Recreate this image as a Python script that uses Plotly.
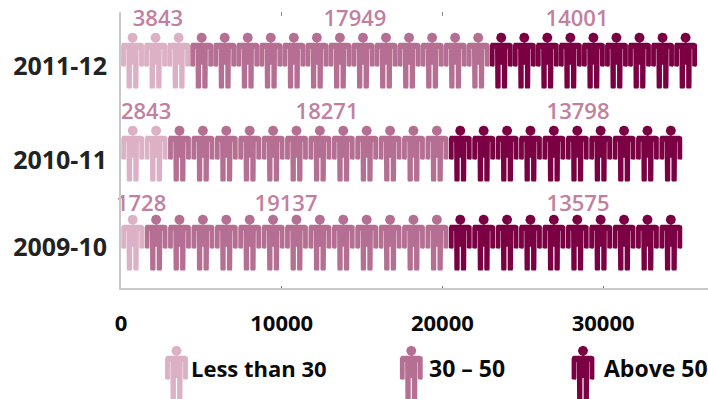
import math
import plotly.graph_objects as go

# Enrolment by age group, one row per academic year
years = ["2011-12", "2010-11", "2009-10"]
groups = ["Less than 30", "30 – 50", "Above 50"]
less_than_30 = [3843, 2843, 1728]
from_30_to_50 = [17949, 18271, 19137]
above_50 = [14001, 13798, 13575]

# Number of person icons drawn per group, and how many people one icon spans
icons_less_than_30 = [3, 2, 1]
icons_30_to_50 = [13, 12, 13]
icons_above_50 = [9, 10, 10]
people_per_icon = [1434, 1456, 1456]

colors = ["#dcb0c5", "#b56f92", "#7b0043"]
label_color = "#c2809f"
value_font = "Open Sans"
bold_font = "Open Sans"

# Page geometry (pixels)
W, H = 708, 399
PLOT_LEFT, PLOT_TOP, PLOT_BOTTOM = 121, 12, 288
PX_PER_PERSON = 0.01607
x_max = (W - PLOT_LEFT) / PX_PER_PERSON

row_center = [60.85, 153.85, 242.85]
year_label_y = [66, 160, 247]
value_label_y = [[20, 20, 20], [113, 113, 113], [205, 205, 205]]
value_label_x = [[2300, 14560, 28380], [1560, 12820, 28440], [1250, 10270, 28440]]


def rounded(points, radii):
    """Closed polygon with its corners cut into small arcs."""
    out = []
    n = len(points)
    for i, (px, py) in enumerate(points):
        r = radii[i]
        ax, ay = points[i - 1]
        bx, by = points[(i + 1) % n]
        if r == 0:
            out.append((px, py))
            continue
        la = math.hypot(ax - px, ay - py)
        lb = math.hypot(bx - px, by - py)
        for k in range(6):
            t = k / 5
            s = (px + (ax - px) / la * r, py + (ay - py) / la * r)
            e = (px + (bx - px) / lb * r, py + (by - py) / lb * r)
            qx = (1 - t) ** 2 * s[0] + 2 * t * (1 - t) * px + t ** 2 * e[0]
            qy = (1 - t) ** 2 * s[1] + 2 * t * (1 - t) * py + t ** 2 * e[1]
            out.append((qx, qy))
    out.append(out[0])
    return out


# Person glyph in pixels, relative to the centre of the figure
HEAD_R = 5.0
HEAD_Y = -23.2
body = rounded(
    [(-11.4, -18.2), (11.4, -18.2), (11.4, 5.8), (6.6, 5.8), (6.6, -12), (6.2, -12),
     (5.9, 27.8), (0.6, 27.8), (0.6, 4), (-0.6, 4), (-0.6, 27.8), (-5.9, 27.8),
     (-6.2, -12), (-6.6, -12), (-6.6, 5.8), (-11.4, 5.8)],
    [2.8, 2.8, 1.2, 1.2, 0, 0, 1.5, 1.5, 0, 0, 1.5, 1.5, 0, 0, 1.2, 1.2],
)
head = [(HEAD_R * math.cos(a * math.pi / 16), HEAD_Y + HEAD_R * math.sin(a * math.pi / 16))
        for a in range(33)]


def glyph(cx, cy, sx):
    xs, ys = [], []
    for part in (body, head):
        xs += [cx + px * sx for px, _ in part] + [None]
        ys += [cy + py for _, py in part] + [None]
    return xs, ys


fig = go.Figure()

# Icon rows: each group continues where the previous one stopped
icon_counts = [icons_less_than_30, icons_30_to_50, icons_above_50]
value_sets = [less_than_30, from_30_to_50, above_50]
for r, year in enumerate(years):
    start = 0
    for g, group in enumerate(groups):
        xs, ys = [], []
        for i in range(icon_counts[g][r]):
            center = (start + i + 0.5) * people_per_icon[r]
            gx, gy = glyph(center, row_center[r], 1 / PX_PER_PERSON)
            xs += gx
            ys += gy
        start += icon_counts[g][r]
        fig.add_trace(go.Scatter(
            x=xs, y=ys, mode="lines", fill="toself", fillcolor=colors[g],
            line=dict(width=0, color=colors[g]), name=f"{year} {group}",
            hoverinfo="skip", showlegend=False, xaxis="x", yaxis="y",
        ))
    fig.add_trace(go.Scatter(
        x=value_label_x[r], y=value_label_y[r], mode="text",
        text=[str(v[r]) for v in value_sets], textposition="middle center",
        textfont=dict(family=value_font, size=22, color=label_color, weight=600),
        hoverinfo="skip", showlegend=False, cliponaxis=False, xaxis="x", yaxis="y",
    ))

# Key under the axis, drawn on a page-sized set of axes
key_x = [176.5, 411.3, 583]
key_text_x = [189, 427, 602]
key_text_size = [22, 23, 23]
for g, group in enumerate(groups):
    gx, gy = glyph(key_x[g], 374, 1)
    fig.add_trace(go.Scatter(
        x=gx, y=gy, mode="lines", fill="toself", fillcolor=colors[g],
        line=dict(width=0, color=colors[g]), name=group,
        hoverinfo="skip", showlegend=False, xaxis="x3", yaxis="y3",
    ))
    fig.add_annotation(
        x=key_text_x[g], y=368, xref="x3", yref="y3", text=f"<b>{group}</b>",
        showarrow=False, xanchor="left", yanchor="middle", align="left",
        font=dict(family=bold_font, size=key_text_size[g], color="#0a0a0a"),
    )

fig.update_layout(
    width=W, height=H, margin=dict(l=0, r=0, t=0, b=0, autoexpand=False),
    paper_bgcolor="white", plot_bgcolor="rgba(0,0,0,0)", showlegend=False,
    xaxis=dict(
        domain=[PLOT_LEFT / W, 1], range=[0, x_max], anchor="y", side="bottom",
        tickvals=[0, 10000, 20000, 30000], ticktext=["0", "10000", "20000", "30000"],
        ticks="inside", ticklen=2, tickwidth=1, tickcolor="#777777",
        showline=True, linecolor="#c8c8c8", linewidth=2, showgrid=False, zeroline=False,
        ticklabelstandoff=15,
        tickfont=dict(family=bold_font, size=22, color="#0a0a0a", weight=700),
        fixedrange=True,
    ),
    xaxis2=dict(
        overlaying="x", matches="x", anchor="y", side="top",
        tickvals=[10000, 20000], ticks="inside", ticklen=4, tickwidth=1, tickcolor="#888888",
        showticklabels=False, showline=False, showgrid=False, zeroline=False,
    ),
    yaxis=dict(
        domain=[1 - PLOT_BOTTOM / H, 1 - PLOT_TOP / H], range=[PLOT_BOTTOM, PLOT_TOP],
        anchor="x", tickvals=year_label_y, ticktext=years, ticks="",
        showline=True, linecolor="#c8c8c8", linewidth=2, showgrid=False, zeroline=False,
        ticklabelstandoff=7,
        tickfont=dict(family=bold_font, size=25, color="#222222", weight=700),
        fixedrange=True,
    ),
    xaxis3=dict(domain=[0, 1], range=[0, W], anchor="y3", visible=False, fixedrange=True),
    yaxis3=dict(domain=[0, 1], range=[H, 0], anchor="x3", visible=False, fixedrange=True),
)
# Keeps the upper tick marks on the page
fig.add_trace(go.Scatter(x=[None], y=[None], xaxis="x2", yaxis="y", showlegend=False, hoverinfo="skip"))

fig.write_html("out.html")
